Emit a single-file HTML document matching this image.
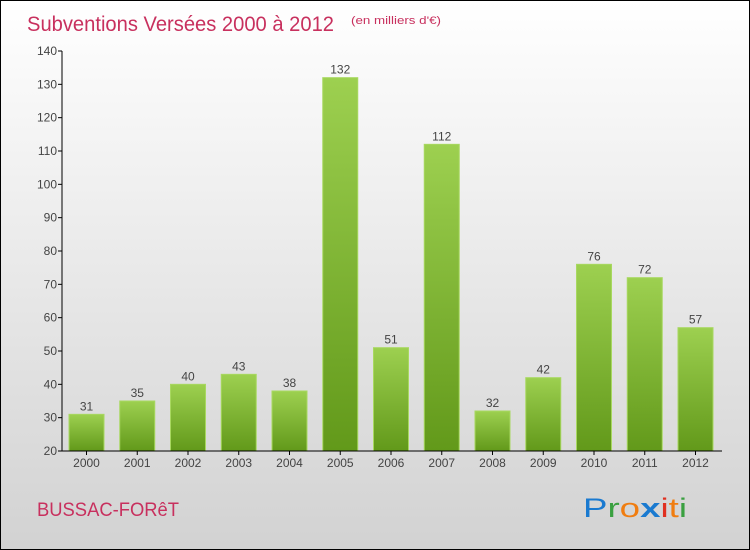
<!DOCTYPE html>
<html><head><meta charset="utf-8"><style>
body{margin:0;}
#c{position:relative;width:748px;height:548px;border:1px solid #000;background:linear-gradient(#ffffff,#d2d2d2);overflow:hidden;font-family:"Liberation Sans",sans-serif;}
</style></head><body>
<div id="c">
<svg id="s" width="748" height="548" style="position:absolute;left:0;top:0" font-family="Liberation Sans,sans-serif">
<defs><linearGradient id="g" x1="0" y1="0" x2="0" y2="1"><stop offset="0" stop-color="#9dd050"/><stop offset="1" stop-color="#62991a"/></linearGradient></defs>
<text x="26" y="30" font-size="21" fill="#c8305e" textLength="307" lengthAdjust="spacingAndGlyphs">Subventions Versées 2000 à 2012</text>
<text x="350" y="23" font-size="11" fill="#c8305e" textLength="90" lengthAdjust="spacingAndGlyphs">(en milliers d'€)</text>
<text x="36" y="515" font-size="19" fill="#c8305e" textLength="142" lengthAdjust="spacingAndGlyphs">BUSSAC-FORêT</text>
<text x="582" y="516" font-size="27" textLength="104" lengthAdjust="spacingAndGlyphs"><tspan fill="#1a7ad0">P</tspan><tspan fill="#3aa040">r</tspan><tspan fill="#f07d10">o</tspan><tspan fill="#1a7ad0" font-weight="bold">x</tspan><tspan fill="#e03020">i</tspan><tspan fill="#f07d10">t</tspan><tspan fill="#3aa040">i</tspan></text>
<g id="plot"></g>
</svg>
</div>
<script>
const categories=["2000","2001","2002","2003","2004","2005","2006","2007","2008","2009","2010","2011","2012"];
const values=[31,35,40,43,38,132,51,112,32,42,76,72,57];
const yTicks=[20,30,40,50,60,70,80,90,100,110,120,130,140];
const NS="http://www.w3.org/2000/svg";
const g=document.getElementById('plot');
const y=v=>450-(v-20)*(400/120);
const x=i=>85.5+i*50.75;
function mk(t,a){const e=document.createElementNS(NS,t);for(const k in a)e.setAttribute(k,a[k]);g.appendChild(e);return e;}
yTicks.forEach(v=>{
 const l=mk('line',{x1:57,x2:61,y1:y(v),y2:y(v),stroke:'#000'});
 
 
 const t=mk('text',{x:56,y:y(v)+4,'text-anchor':'end','font-size':12,fill:'#444'});t.textContent=v;
 
 
});
categories.forEach((c,i)=>{
 const v=values[i];
 const r=mk('rect',{x:x(i)-17.5,y:y(v),width:35,height:450-y(v),fill:'url(#g)',stroke:'#a8d860','stroke-width':1});
 
 
 const t=mk('text',{x:x(i),y:y(v)-4,'text-anchor':'middle','font-size':12,fill:'#444'});t.textContent=v;
 
 
 const tk=mk('line',{x1:x(i),x2:x(i),y1:450,y2:454,stroke:'#000'});
 
 
 const xl=mk('text',{x:x(i),y:466,'text-anchor':'middle','font-size':12,fill:'#444'});xl.textContent=c;
 
 
});
const ya=mk('line',{x1:61,x2:61,y1:50,y2:450,stroke:'#000'});


const xa=mk('line',{x1:61,x2:721,y1:450,y2:450,stroke:'#000'});


</script>
</body></html>
